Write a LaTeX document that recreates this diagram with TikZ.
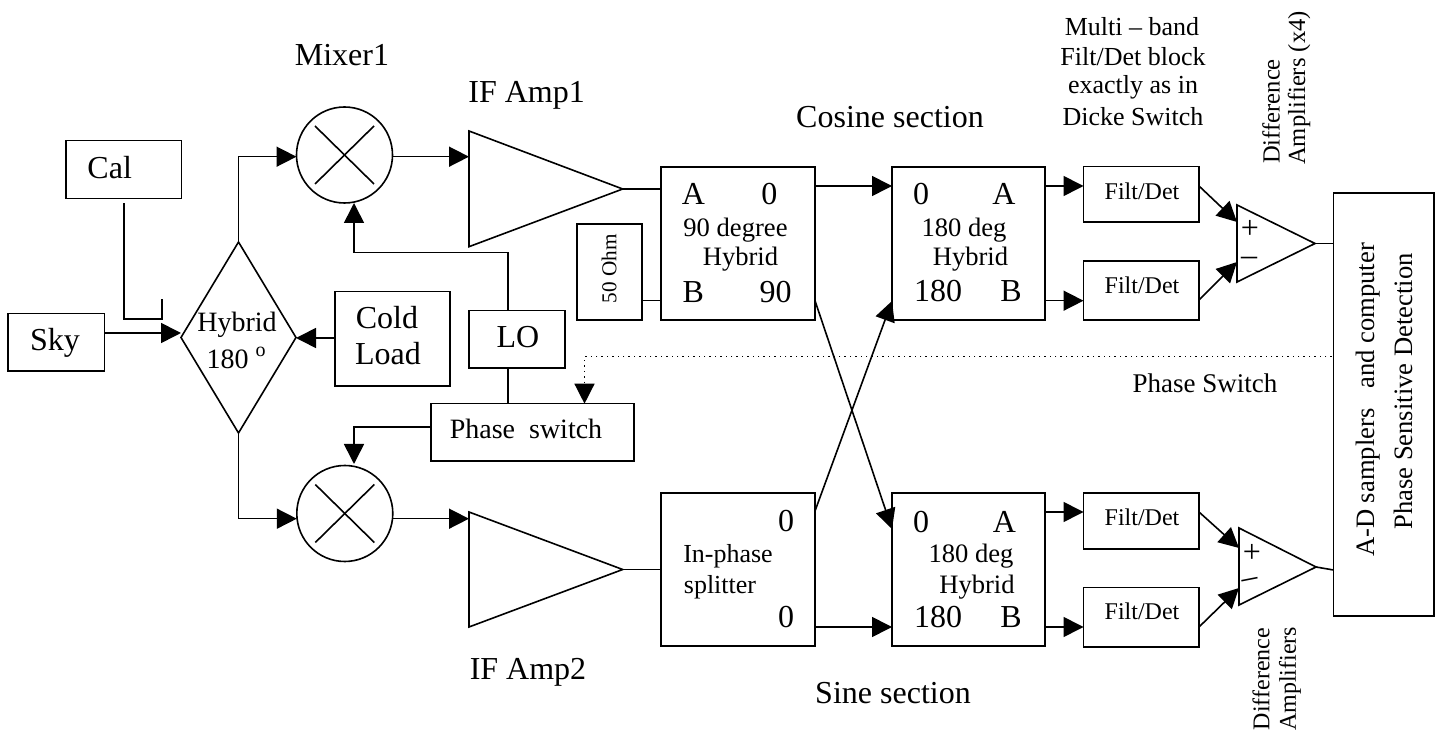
\documentclass[tikz,border=0pt]{standalone}
\usepackage{fontspec}
\setmainfont{Liberation Serif}
\usetikzlibrary{arrows.meta,shapes.geometric}
\newcommand{\fs}[1]{\fontsize{#1}{#1}\selectfont}
\tikzset{
  wire/.style={line width=0.8pt},
  arr/.style={wire,-{Triangle[length=10pt,width=10pt]}},
  bx/.style={draw,line width=0.8pt,rectangle,inner sep=0pt,outer sep=0pt},
  lab/.style={inner sep=0pt,outer sep=0pt,font=\fs{16}},
  mid/.style={inner sep=0pt,outer sep=0pt,font=\fs{14}},
  hbt/.style={inner sep=0pt,outer sep=0pt,font=\fs{13.3}},
  sml/.style={inner sep=0pt,outer sep=0pt,font=\fs{13}},
  tiny/.style={inner sep=0pt,outer sep=0pt,font=\fs{12}},
}
% name, x1, y1, x2, y2 in reference pixels
\newcommand{\bxn}[5]{%
  \pgfmathsetmacro{\bw}{(#4-#2)*0.5}\pgfmathsetmacro{\bh}{(#5-#3)*0.5}%
  \node[bx,minimum width=\bw pt,minimum height=\bh pt] (#1) at ({(#2+#4)/2},{(#3+#5)/2}) {};}
\begin{document}
\begin{tikzpicture}[x=0.5pt,y=-0.5pt]
\useasboundingbox (0,0) rectangle (1440,731);
% boxes
\bxn{cal}{66}{140.7}{181.5}{198.5}
\bxn{sky}{8}{313.7}{104.5}{371}
\bxn{cold}{335}{291.5}{450}{386}
\bxn{lo}{469}{310.7}{565}{368}
\bxn{psw}{430.7}{403.7}{634}{461}
\bxn{ohm}{576.7}{224}{642}{320}
\bxn{h90}{661}{167}{815}{320}
\bxn{spl}{661}{493}{815}{646}
\bxn{ha}{892}{167}{1045}{320}
\bxn{hb}{892}{493}{1045}{646}
\bxn{fa}{1083.5}{166.7}{1199}{222}
\bxn{fb}{1083.5}{261}{1199}{320}
\bxn{fc}{1083.5}{493}{1199}{549}
\bxn{fd}{1083.5}{587.7}{1199}{646.7}
\bxn{adc}{1333.5}{193}{1434}{616}
\node[draw,wire,diamond,inner sep=0pt,outer sep=0pt,minimum width=57.5pt,minimum height=95.5pt] (hyb) at (238.5,337.5) {};
\node[draw,wire,circle,inner sep=0pt,outer sep=0pt,minimum size=48pt] (mx1) at (344.5,155) {};
\node[draw,wire,circle,inner sep=0pt,outer sep=0pt,minimum size=48pt] (mx2) at (344.8,513.5) {};
\draw[wire] ([shift={(-14.75pt,-14.5pt)}]mx1.center) -- ([shift={(14.75pt,14.5pt)}]mx1.center);
\draw[wire] ([shift={(14.75pt,-14.5pt)}]mx1.center) -- ([shift={(-14.75pt,14.5pt)}]mx1.center);
\draw[wire] ([shift={(-14.75pt,-14.5pt)}]mx2.center) -- ([shift={(14.75pt,14.5pt)}]mx2.center);
\draw[wire] ([shift={(14.75pt,-14.5pt)}]mx2.center) -- ([shift={(-14.75pt,14.5pt)}]mx2.center);
% amplifiers
\coordinate (a1t) at (469,131); \coordinate (a1b) at (469,246.7); \coordinate (a1o) at (622.7,189);
\coordinate (a2t) at (469,512); \coordinate (a2b) at (469,627); \coordinate (a2o) at (622.7,569.5);
\coordinate (d1t) at (1237,205); \coordinate (d1b) at (1237,282); \coordinate (d1o) at (1315,243.5);
\coordinate (d2t) at (1239,528); \coordinate (d2b) at (1239,605); \coordinate (d2o) at (1316,567);
\draw[wire,line join=miter] (a1t) -- (a1o) -- (a1b) -- cycle;
\draw[wire,line join=miter] (a2t) -- (a2o) -- (a2b) -- cycle;
\draw[wire,line join=miter] (d1t) -- (d1o) -- (d1b) -- cycle;
\draw[wire,line join=miter] (d2t) -- (d2o) -- (d2b) -- cycle;
% connectors
\coordinate (calj) at (124,319); \coordinate (calk) at (162,319); \coordinate (calend) at (162,299);
\draw[wire] ([yshift=-2.5pt]cal.south) -- (cal.south |- calj) -- (calk) -- (calend);
\draw[arr] (sky.east |- 0,333) -- (hyb.west |- 0,333);
\draw[arr] (cold.west |- 0,338) -- (hyb.east |- 0,338);
\draw[arr] (hyb.north) |- (mx1.west |- 0,156.7);
\draw[arr] (hyb.south) |- (mx2.west |- 0,518.7);
\draw[arr] (mx1.east |- 0,156.7) -- (a1t |- 0,156.7);
\draw[arr] (mx2.east |- 0,518.7) -- (a2t |- 0,518.7);
\draw[arr] (lo.north -| 508,0) |- (354,252.7) -- (354,203);
\draw[wire] (lo.south -| 508,0) -- (psw.north -| 508,0);
\draw[arr] (psw.west |- 0,427) -- (354,427) -- (354,464);
\draw[wire] (a1o) -- (h90.west |- a1o);
\draw[wire] (a2o) -- (spl.west |- a2o);
\draw[wire] (ohm.east |- 0,300.7) -- (h90.west |- 0,300.7);
\draw[arr] (h90.east |- 0,186) -- (ha.west |- 0,186);
\draw[arr] (spl.east |- 0,627) -- (hb.west |- 0,627);
\draw[arr] (h90.east |- 0,300.7) -- (hb.west |- 0,529);
\draw[arr] (spl.east |- 0,511) -- (ha.west |- 0,301);
\draw[arr] (ha.east |- 0,186) -- (fa.west |- 0,186);
\draw[arr] (ha.east |- 0,300.7) -- (fb.west |- 0,300.7);
\draw[arr] (hb.east |- 0,512) -- (fc.west |- 0,512);
\draw[arr] (hb.east |- 0,627) -- (fd.west |- 0,627);
\draw[arr] (fa.east |- 0,186) -- (d1t |- 0,222);
\draw[arr] (fb.east |- 0,300) -- (d1t |- 0,262);
\draw[arr] (fc.east |- 0,512) -- (d2t |- 0,548);
\draw[arr] (fd.east |- 0,627) -- (d2t |- 0,588);
\draw[wire] (d1o) -- (adc.west |- d1o);
\draw[wire] (d2o) -- (adc.west |- 0,570);
\draw[line width=0.7pt,dotted,-{Triangle[length=10pt,width=10pt]}] (1331.7,356.7) -- (584.5,356.7) -- (psw.north -| 584.5,0);
% labels
\node[lab] at (109.7,168) {Cal};
\node[lab] at (55,343) {Sky};
\node[mid] at (237,325) {Hybrid};
\node[mid] (h180) at (236,358) {180 \raisebox{0.45em}{\fs{10}o}};
\node[lab] at (387,318) {Cold};
\node[lab] at (388,354) {Load};
\node[lab] at (518,337) {LO};
\node[mid] at (526,429) {Phase\hspace{0.5em}switch};
\node[lab] at (342,55) {Mixer1};
\node[lab] at (526.6,95) {IF Amp1};
\node[lab] at (528,672) {IF Amp2};
\node[lab] at (890,117) {Cosine section};
\node[lab] at (893,693) {Sine section};
\node[lab] at (693.5,194) {A};
\node[lab] at (769.3,194) {0};
\node[hbt] at (735.5,230) {90 degree};
\node[hbt] at (740.5,259) {Hybrid};
\node[lab] at (693.3,291.7) {B};
\node[lab] at (775.5,291.7) {90};
\node[inner sep=0pt,font=\fs{10.6},rotate=90] at (609,268.7) {50 Ohm};
\node[lab] at (921,194) {0};
\node[lab] at (1004,194) {A};
\node[hbt] at (964,230) {180 deg};
\node[hbt] at (970.5,259) {Hybrid};
\node[lab] at (938,291) {180};
\node[lab] at (1011,291) {B};
\node[lab] at (921,522) {0};
\node[lab] at (1004.5,522) {A};
\node[hbt] at (971,556) {180 deg};
\node[hbt] at (977,587) {Hybrid};
\node[lab] at (938,617) {180};
\node[lab] at (1011,617) {B};
\node[lab] at (786,521) {0};
\node[sml] at (728,556) {In-phase};
\node[sml] at (720,587) {splitter};
\node[lab] at (786,617) {0};
\node[tiny] at (1142,191) {Filt/Det};
\node[tiny] at (1142,285) {Filt/Det};
\node[tiny] at (1142,517) {Filt/Det};
\node[tiny] at (1142,611) {Filt/Det};
\node[lab] at (1250,229.5) {+};
\node[lab] at (1249,261) {\symbol{"2013}};
\node[lab] at (1252,553) {+};
\node[lab,rotate=11] at (1251,583) {\symbol{"2013}};
\node[sml] at (1132,27) {Multi \symbol{"2013} band};
\node[sml] at (1133,57) {Filt/Det block};
\node[sml] at (1133,87) {exactly as in};
\node[sml] at (1133,117) {Dicke Switch};
\node[inner sep=0pt,font=\fs{12.3},rotate=90] at (1271,111.5) {Difference};
\node[inner sep=0pt,font=\fs{12.3},rotate=90] at (1299,88) {Amplifiers (x4)};
\node[inner sep=0pt,font=\fs{12},rotate=90] at (1261,679) {Difference};
\node[inner sep=0pt,font=\fs{12},rotate=90] at (1290,679) {Amplifiers};
\node[inner sep=0pt,font=\fs{13.5}] at (1205,383) {Phase Switch};
\node[inner sep=0pt,font=\fs{13.3},rotate=90] at (1368,400) {A-D samplers\hspace{0.5em} and computer};
\node[inner sep=0pt,font=\fs{13.3},rotate=90] at (1403,391.5) {Phase Sensitive Detection};
\end{tikzpicture}
\end{document}
